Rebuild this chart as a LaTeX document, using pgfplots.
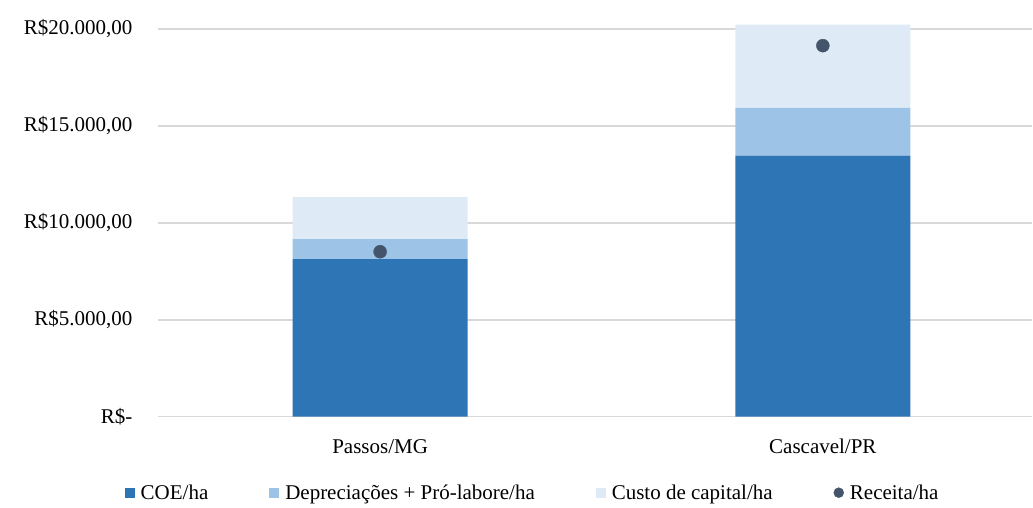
\documentclass[border=0pt]{standalone}
\usepackage{fontspec}
\setmainfont{Liberation Serif}
\usepackage{pgfplots}
\pgfplotsset{compat=1.18}
\definecolor{coe}{HTML}{2E75B6}
\definecolor{dep}{HTML}{9DC3E6}
\definecolor{cap}{HTML}{DEEBF7}
\definecolor{rec}{HTML}{44546A}
\definecolor{gridgray}{HTML}{D9D9D9}
\begin{document}
\begin{tikzpicture}[font=\fontsize{21}{25}\selectfont]
\begin{axis}[
  scale only axis, width=875pt, height=388pt,
  xmin=-0.502, xmax=1.473, ymin=0, ymax=20000,
  clip=false,
  ybar stacked, bar width=175pt,
  xtick={0,1}, xticklabels={Passos/MG,Cascavel/PR},
  ytick={0,5000,10000,15000,20000},
  scaled y ticks=false,
  yticklabels={{R\$-\hspace{11pt}},{R\$5.000,00},{R\$10.000,00},{R\$15.000,00},{R\$20.000,00}},
  axis line style={draw=none}, major tick length=0,
  ymajorgrids, grid style={draw=gridgray, line width=1.5pt},
  yticklabel style={xshift=-22pt},
  xticklabel style={yshift=-19pt},
  legend columns=4,
  legend style={draw=none, fill=none, at={(axis description cs:0.4286,-0.196)}, anchor=center,
    /tikz/every even column/.append style={column sep=59pt},
    /tikz/every odd column/.append style={column sep=4pt}},
  legend image code/.code={\draw[#1,draw=none] (0pt,-5pt) rectangle (10pt,5pt);},
]
\addplot[fill=coe, draw=none] coordinates {(0,8130) (1,13470)};
\addlegendentry{COE/ha}
\addplot[fill=dep, draw=none] coordinates {(0,1030) (1,2460)};
\addlegendentry{Depreciações + Pró-labore/ha}
\addplot[fill=cap, draw=none] coordinates {(0,2160) (1,4290)};
\addlegendentry{Custo de capital/ha}
\addlegendimage{legend image code/.code={\fill[rec] (5pt,0pt) circle (5pt);}}
\addlegendentry{Receita/ha}
\end{axis}
\begin{axis}[
  scale only axis, width=875pt, height=388pt,
  xmin=-0.502, xmax=1.473, ymin=0, ymax=20000,
  hide axis,
]
\addplot[only marks, mark=*, mark size=6.5pt, color=rec] coordinates {(0,8510) (1,19140)};
\end{axis}
\path[use as bounding box] (-158pt,-91pt) rectangle (875pt,417pt);
\end{tikzpicture}
\end{document}
